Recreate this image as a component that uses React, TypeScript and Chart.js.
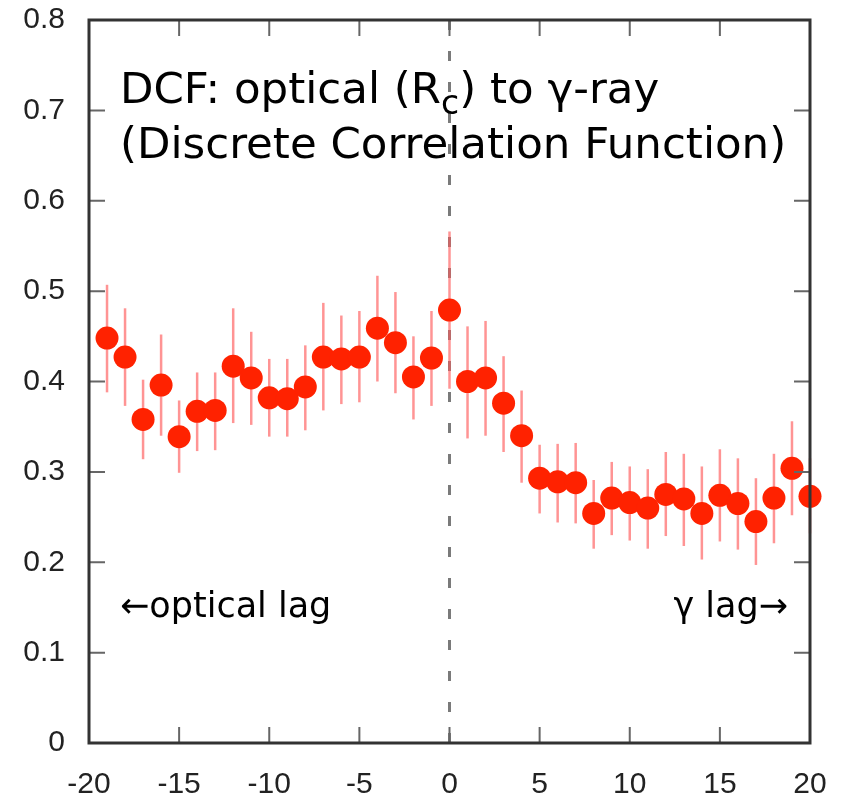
import React, { useEffect, useRef } from "react";
import { Chart, registerables } from "chart.js";

Chart.register(...registerables);

const lags = [-19, -18, -17, -16, -15, -14, -13, -12, -11, -10, -9, -8, -7, -6, -5, -4, -3, -2, -1, 0, 1, 2, 3, 4, 5, 6, 7, 8, 9, 10, 11, 12, 13, 14, 15, 16, 17, 18, 19, 20];
const dcf = [0.448, 0.427, 0.358, 0.396, 0.339, 0.367, 0.368, 0.417, 0.404, 0.382, 0.381, 0.394, 0.427, 0.425, 0.427, 0.459, 0.443, 0.405, 0.426, 0.479, 0.4, 0.404, 0.376, 0.34, 0.293, 0.289, 0.288, 0.254, 0.271, 0.266, 0.26, 0.275, 0.27, 0.254, 0.274, 0.265, 0.245, 0.271, 0.304, 0.273];
const errHigh = [0.507, 0.481, 0.402, 0.452, 0.379, 0.41, 0.41, 0.481, 0.455, 0.425, 0.425, 0.44, 0.487, 0.473, 0.478, 0.517, 0.499, 0.45, 0.478, 0.566, 0.461, 0.467, 0.428, 0.39, 0.33, 0.331, 0.332, 0.291, 0.311, 0.306, 0.303, 0.322, 0.32, 0.306, 0.325, 0.315, 0.293, 0.32, 0.356, 0.315];
const errLow = [0.388, 0.373, 0.314, 0.34, 0.299, 0.323, 0.324, 0.354, 0.352, 0.339, 0.339, 0.346, 0.368, 0.375, 0.377, 0.4, 0.387, 0.358, 0.373, 0.392, 0.337, 0.34, 0.322, 0.288, 0.254, 0.244, 0.243, 0.215, 0.23, 0.224, 0.215, 0.229, 0.218, 0.203, 0.223, 0.214, 0.197, 0.221, 0.252, 0.232];

const xTicks = [-20, -15, -10, -5, 0, 5, 10, 15, 20];
const yTicks = [0, 0.1, 0.2, 0.3, 0.4, 0.5, 0.6, 0.7, 0.8];

const titleLine1 = ["DCF: optical (R", "c", ") to γ-ray"];
const titleLine2 = "(Discrete Correlation Function)";
const leftNote = "←optical lag";
const rightNote = "γ lag→";

const TEXT_FONT = '"DejaVu Sans", sans-serif';

const decorPlugin = {
  id: "decor",
  beforeDatasetsDraw(chart: any) {
    const { ctx, scales } = chart;
    const xs = scales.x;
    const ys = scales.y;
    const top = ys.getPixelForValue(0.8);
    const bottom = ys.getPixelForValue(0);
    // dashed zero-lag line
    const x0 = xs.getPixelForValue(0);
    ctx.save();
    ctx.strokeStyle = "#7a7a7a";
    ctx.lineWidth = 3;
    ctx.setLineDash([10, 21]);
    ctx.beginPath();
    ctx.moveTo(x0, bottom);
    ctx.lineTo(x0, top);
    ctx.stroke();
    ctx.restore();

    // text
    ctx.save();
    ctx.fillStyle = "#000";
    ctx.textBaseline = "alphabetic";
    ctx.textAlign = "left";
    const fs = 43.5;
    ctx.font = `${fs}px ${TEXT_FONT}`;
    let tx = 120;
    const ty1 = 103;
    ctx.fillText(titleLine1[0], tx, ty1);
    tx += ctx.measureText(titleLine1[0]).width;
    ctx.font = `${Math.round(fs * 0.75)}px ${TEXT_FONT}`;
    ctx.fillText(titleLine1[1], tx, ty1 + 11);
    tx += ctx.measureText(titleLine1[1]).width;
    ctx.font = `${fs}px ${TEXT_FONT}`;
    ctx.fillText(titleLine1[2], tx, ty1);
    ctx.fillText(titleLine2, 120, 158);

    ctx.font = `35px ${TEXT_FONT}`;
    ctx.fillText(leftNote, 120, 617);
    ctx.textAlign = "right";
    ctx.fillText(rightNote, 788, 617);
    ctx.restore();

    // error bars
    ctx.save();
    ctx.strokeStyle = "rgba(255, 90, 90, 0.65)";
    ctx.lineWidth = 2.5;
    for (let i = 0; i < lags.length; i++) {
      const px = xs.getPixelForValue(lags[i]);
      ctx.beginPath();
      ctx.moveTo(px, ys.getPixelForValue(errHigh[i]));
      ctx.lineTo(px, ys.getPixelForValue(errLow[i]));
      ctx.stroke();
    }
    ctx.restore();
  },
  afterDraw(chart: any) {
    const { ctx, scales } = chart;
    const xs = scales.x;
    const ys = scales.y;
    const left = xs.getPixelForValue(-20);
    const right = xs.getPixelForValue(20);
    const top = ys.getPixelForValue(0.8);
    const bottom = ys.getPixelForValue(0);
    ctx.save();
    ctx.strokeStyle = "#666";
    ctx.lineWidth = 2;
    const tl = 16;
    ctx.beginPath();
    for (const v of yTicks) {
      const py = ys.getPixelForValue(v);
      ctx.moveTo(left, py);
      ctx.lineTo(left + tl, py);
      ctx.moveTo(right, py);
      ctx.lineTo(right - tl, py);
    }
    for (const v of xTicks) {
      const px = xs.getPixelForValue(v);
      ctx.moveTo(px, bottom);
      ctx.lineTo(px, bottom - tl);
      ctx.moveTo(px, top);
      ctx.lineTo(px, top + tl);
    }
    ctx.stroke();
    ctx.strokeStyle = "#333";
    ctx.lineWidth = 3;
    ctx.strokeRect(left, top, right - left, bottom - top);
    ctx.restore();
  },
};

export default function App() {
  const ref = useRef<HTMLCanvasElement | null>(null);
  useEffect(() => {
    if (!ref.current) return;
    const chart = new Chart(ref.current, {
      type: "scatter",
      data: {
        datasets: [
          {
            data: lags.map((l, i) => ({ x: l, y: dcf[i] })),
            backgroundColor: "#ff2200",
            borderColor: "#ff2200",
            borderWidth: 0,
            pointRadius: 11.5,
            clip: false as any,
          },
        ],
      },
      options: {
        animation: false,
        responsive: false,
        devicePixelRatio: 1,
        layout: { padding: { top: 20, right: 37, left: 0, bottom: 0 } },
        plugins: { legend: { display: false }, tooltip: { enabled: false } },
        scales: {
          x: {
            type: "linear",
            min: -20,
            max: 20,
            afterBuildTicks: (s: any) => {
              s.ticks = xTicks.map((v) => ({ value: v }));
            },
            afterFit: (s: any) => {
              s.height = 53;
              s.paddingLeft = 0;
              s.paddingRight = 0;
            },
            grid: { display: false, drawTicks: false },
            border: { display: false },
            ticks: {
              padding: 24,
              color: "#222",
              font: { family: '"Liberation Sans", Arial, sans-serif', size: 30 },
              callback: (v: any) => String(v),
            },
          },
          y: {
            type: "linear",
            min: 0,
            max: 0.8,
            afterBuildTicks: (s: any) => {
              s.ticks = yTicks.map((v) => ({ value: v }));
            },
            afterFit: (s: any) => {
              s.width = 89;
              s.paddingTop = 0;
              s.paddingBottom = 0;
            },
            grid: { display: false, drawTicks: false },
            border: { display: false },
            ticks: {
              padding: 24,
              color: "#222",
              font: { family: '"Liberation Sans", Arial, sans-serif', size: 30 },
              callback: (v: any) => (v === 0 ? "0" : Number(v).toFixed(1)),
            },
          },
        },
      },
      plugins: [decorPlugin],
    });
    return () => chart.destroy();
  }, []);
  return (
    <div style={{ position: "fixed", left: 0, top: 0, width: 847, height: 796, background: "#fff" }}>
      <canvas ref={ref} width={847} height={796} />
    </div>
  );
}
